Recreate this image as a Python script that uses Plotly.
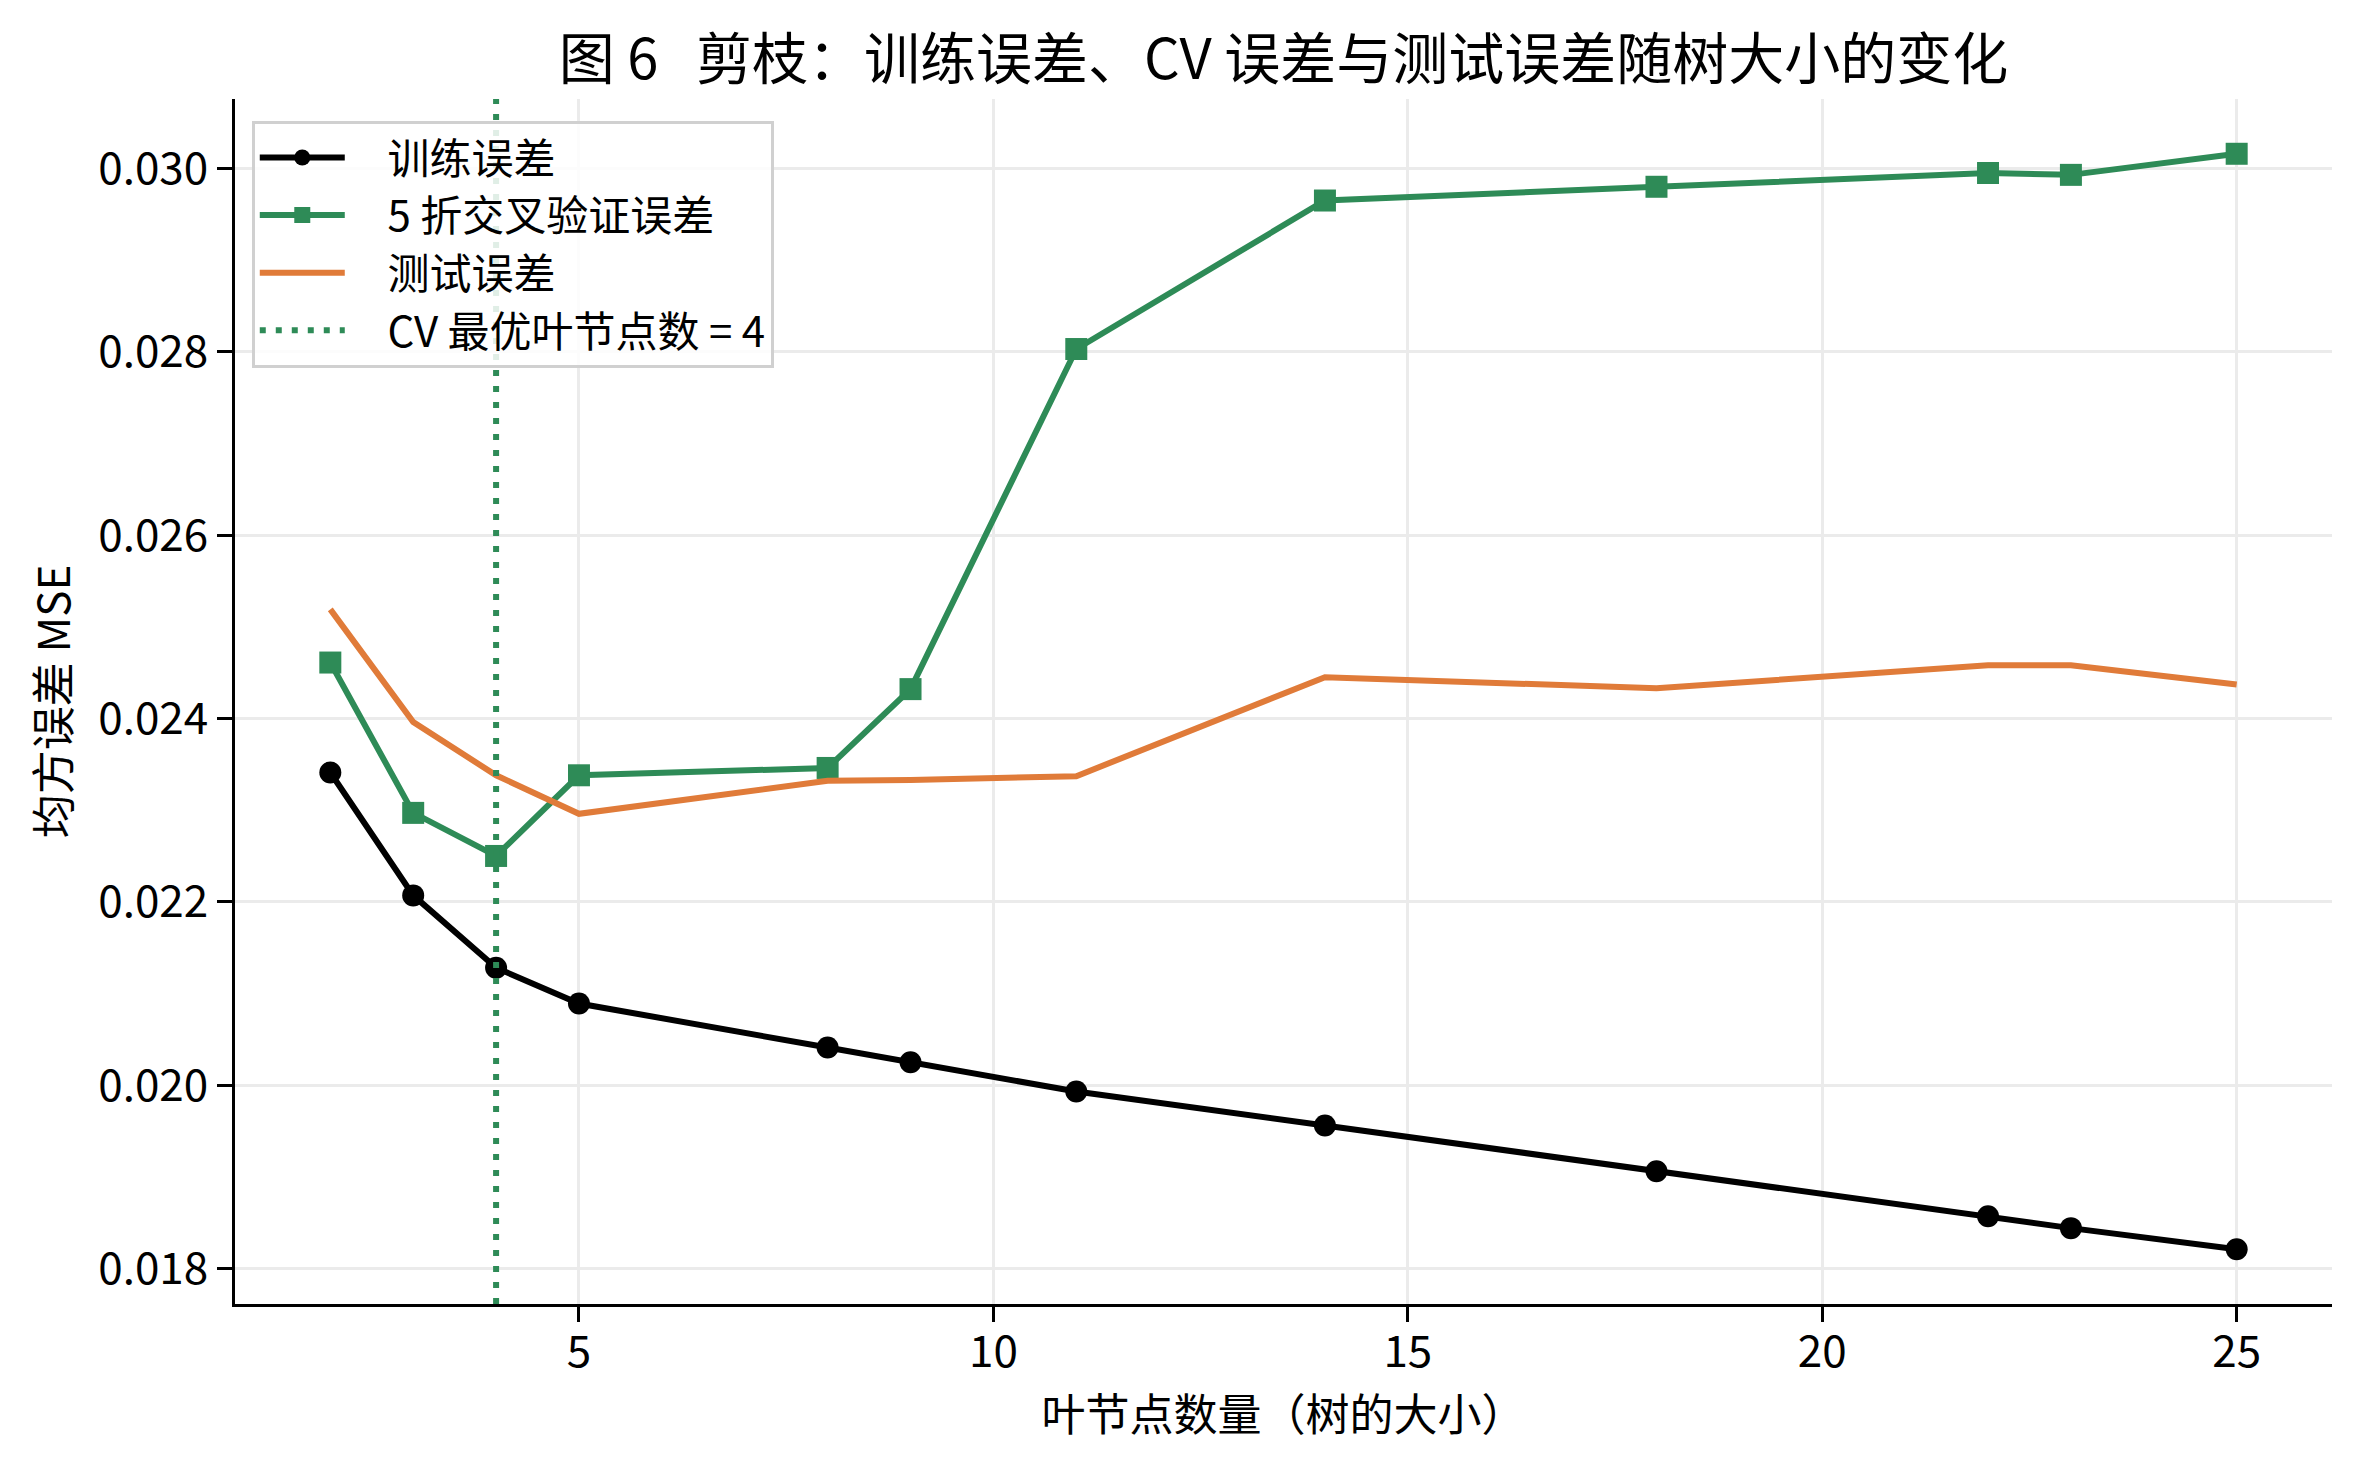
import numpy as np
import plotly.graph_objects as go

# 叶节点数（树的大小）
leaves = [2, 3, 4, 5, 8, 9, 11, 14, 18, 22, 23, 25]
train_mse = [0.02341, 0.02207, 0.02128, 0.02089, 0.02041, 0.02025, 0.01993,
             0.01956, 0.01906, 0.01857, 0.01844, 0.01821]
cv_mse = [0.02461, 0.02297, 0.02250, 0.02338, 0.02346, 0.02432, 0.02803,
          0.02965, 0.02980, 0.02995, 0.02993, 0.03016]
test_mse = [0.02519, 0.02396, 0.02338, 0.02296, 0.02332, 0.02333, 0.02337,
            0.02445, 0.02433, 0.02458, 0.02458, 0.02437]
y_ticks = [0.018, 0.020, 0.022, 0.024, 0.026, 0.028, 0.030]
x_ticks = [5, 10, 15, 20, 25]

best_leaf = leaves[int(np.argmin(cv_mse))]

GREEN = "#2e8b57"
ORANGE = "#e07b39"
FONT = "Noto Sans CJK SC"
PAD = "\u00a0\u00a0\u00a0\u00a0"  # 图例线条与文字之间的间距

fig = go.Figure()
fig.add_trace(go.Scatter(x=leaves, y=train_mse, mode="lines+markers", name=PAD + "训练误差",
                         line=dict(color="black", width=6),
                         marker=dict(symbol="circle", size=22, color="black")))
fig.add_trace(go.Scatter(x=leaves, y=cv_mse, mode="lines+markers", name=PAD + "5 折交叉验证误差",
                         line=dict(color=GREEN, width=6),
                         marker=dict(symbol="square", size=22, color=GREEN)))
fig.add_trace(go.Scatter(x=leaves, y=test_mse, mode="lines", name=PAD + "测试误差",
                         line=dict(color=ORANGE, width=6)))
fig.add_vline(x=best_leaf, line=dict(color=GREEN, width=6, dash="6px,10px"),
              showlegend=True, name=PAD + f"CV 最优叶节点数 = {best_leaf}")

# matplotlib 风格的 5% 边距
xr = max(leaves) - min(leaves)
all_y = train_mse + cv_mse + test_mse
yr = max(all_y) - min(all_y)

axis_common = dict(showline=True, linecolor="black", linewidth=3,
                   ticks="outside", ticklen=15, tickwidth=3, tickcolor="black",
                   showgrid=True, gridcolor="#ebebeb", gridwidth=3, zeroline=False,
                   tickfont=dict(family=FONT, size=44, color="black"))

fig.update_layout(
    width=2360, height=1461,
    margin=dict(l=227, r=36, t=91, b=165),
    plot_bgcolor="white", paper_bgcolor="white",
    font=dict(family=FONT, size=42, color="black"),
    title=dict(text="图\u00a06\u00a0\u00a0\u00a0剪枝：训练误差、CV 误差与测试误差随树大小的变化",
               x=0.5405, xanchor="center", y=0.965, yanchor="middle",
               font=dict(family=FONT, size=56, color="black")),
    xaxis=dict(range=[min(leaves) - 0.05 * xr, max(leaves) + 0.05 * xr],
               tickvals=x_ticks, ticklabelstandoff=-8,
               title=dict(text="叶节点数量（树的大小）", font=dict(size=44), standoff=4),
               **axis_common),
    yaxis=dict(range=[min(all_y) - 0.05 * yr, max(all_y) + 0.05 * yr],
               tickvals=y_ticks, ticktext=[f"{v:.3f}" for v in y_ticks],
               title=dict(text="均方误差 MSE", font=dict(size=44), standoff=14),
               **axis_common),
    legend=dict(x=0.008, y=0.982, xanchor="left", yanchor="top", itemwidth=85,
                bgcolor="rgba(255,255,255,0.85)", bordercolor="#d0d0d0", borderwidth=3,
                font=dict(family=FONT, size=42, color="black")),
    showlegend=True,
)

fig.write_html("out.html")
